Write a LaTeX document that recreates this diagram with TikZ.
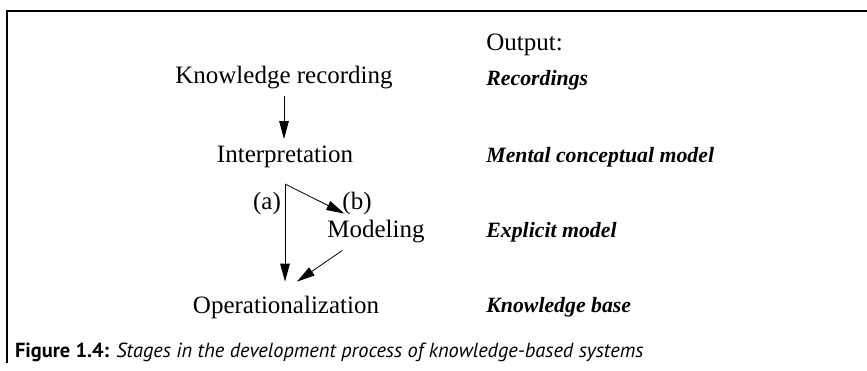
\documentclass[tikz,border=0pt]{standalone}
\usepackage{fontspec}
\setmainfont{Liberation Serif}
\setsansfont{PT Sans}
\usepackage{tikz}
\usetikzlibrary{positioning,arrows.meta}

\begin{document}
\begin{tikzpicture}[x=0.5pt, y=-0.5pt,
    stage/.style={font=\fontsize{12.5}{14}\selectfont},
    result/.style={anchor=west, inner xsep=0pt, font=\fontsize{10.9}{14}\selectfont\bfseries\itshape},
    flow/.style={-{Triangle[length=9pt,width=4.8pt]}}]
    \useasboundingbox (0,0) rectangle (867,370);

    % frame
    \draw[line width=1.1pt] (867,11) -- (7,11) -- (7,363);

    % stages
    \node[stage] (rec)    at (284,78)  {Knowledge recording};
    \node[stage] (interp) at (285,157) {Interpretation};
    \node[stage] (model)  at (376,232) {Modeling};
    \node[stage] (oper)   at (286,307) {Operationalization};

    % outputs
    \node[result, font=\fontsize{12.5}{14}\selectfont] (outhead) at (486,45) {Output:};
    \node[result] (outrec)    at (486,80)  {Recordings};
    \node[result] (outinterp) at (486,157) {Mental conceptual model};
    \node[result] (outmodel)  at (486,232) {Explicit model};
    \node[result] (outoper)   at (486,307) {Knowledge base};

    % arrows
    \coordinate (split) at (285,184);
    \coordinate (into) at ([yshift=3.5pt]oper.north);
    \draw[flow] (rec.south) -- (rec.south |- interp.north);
    \draw[flow] (split) -- (split |- into);
    \draw[flow] (split) -- ([xshift=12pt]model.north west);
    \draw[flow] ([xshift=11pt]model.south west) -- ([xshift=5.5pt]into);

    \node[stage] (pa) at (267,203) {(a)};
    \node[stage] (pb) at (357,203) {(b)};

    % caption
    \node[anchor=west, font=\sffamily\fontsize{10.2}{12}\selectfont] (caption) at (8,352)
        {\textbf{Figure 1.4:} \textit{Stages in the development process of knowledge-based systems}};
\end{tikzpicture}
\end{document}
